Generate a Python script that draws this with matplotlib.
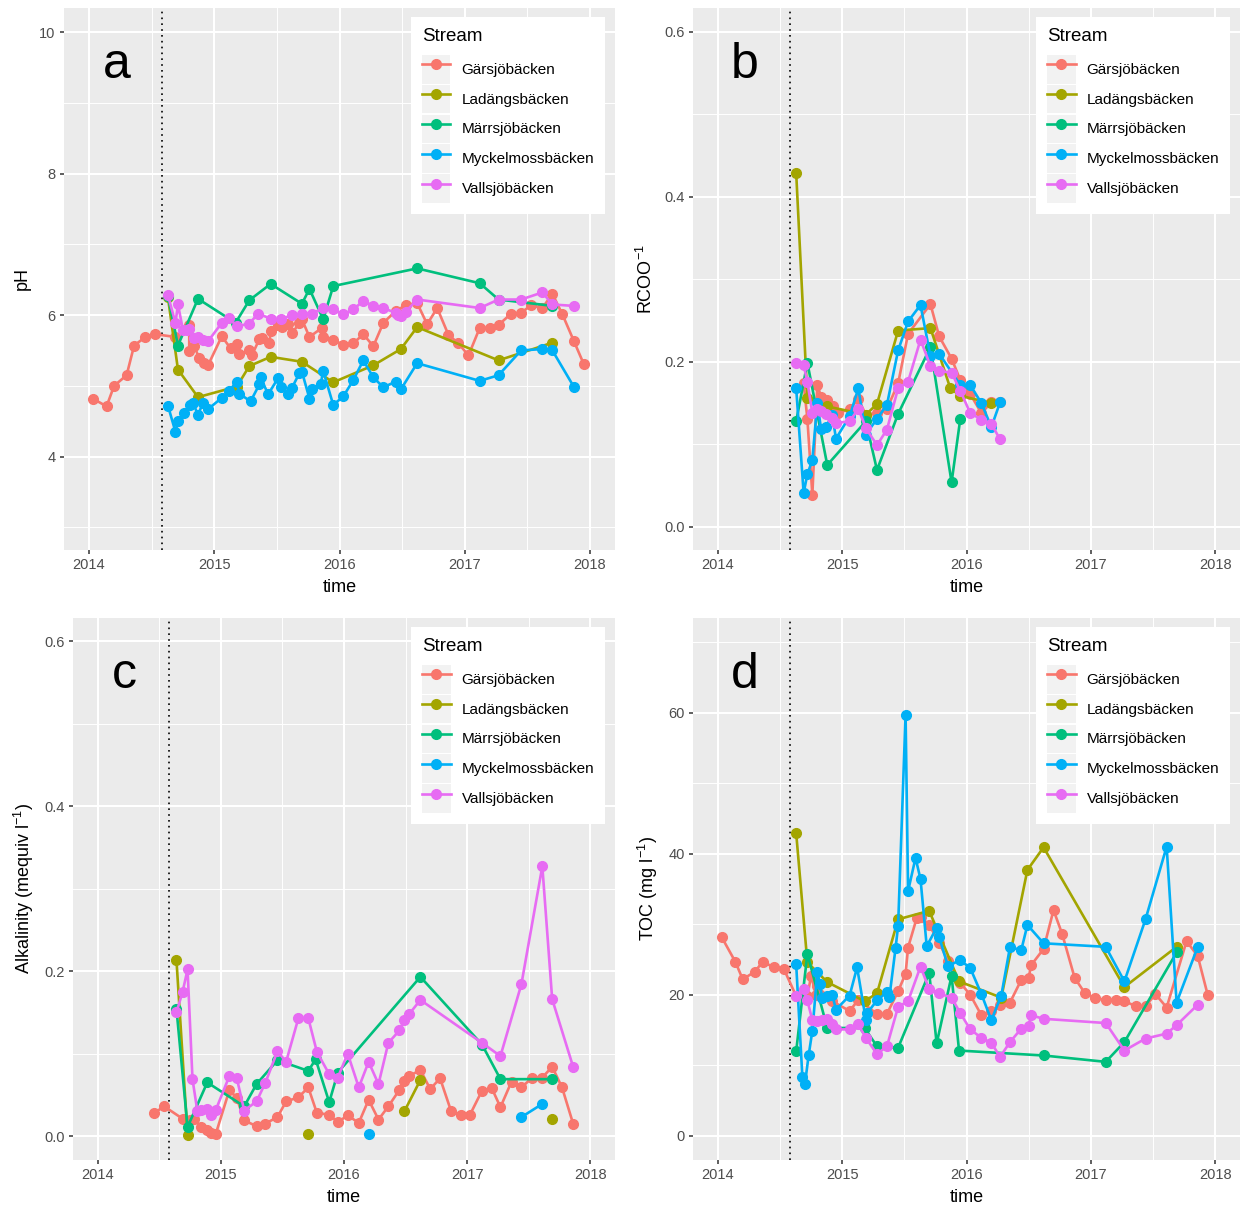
import numpy as np
import matplotlib
matplotlib.use("Agg")
import matplotlib.pyplot as plt
from matplotlib.patches import Patch
from matplotlib.lines import Line2D
from matplotlib.legend_handler import HandlerTuple
from matplotlib.ticker import MultipleLocator

plt.rcParams["font.family"] = ["Liberation Sans", "DejaVu Sans"]
plt.rcParams["mathtext.default"] = "regular"

nan = np.nan

# ======================================================================================== #
# Dados (tempo em anos decimais).
# ======================================================================================== #
STREAMS = ["Gärsjöbäcken", "Ladängsbäcken", "Märrsjöbäcken", "Myckelmossbäcken", "Vallsjöbäcken"]
CORES = ["#F8766D", "#A3A500", "#00BF7D", "#00B0F6", "#E76BF3"]
ANOS = [2014, 2015, 2016, 2017, 2018]
INICIO_TRATAMENTO = 2014.58

# ---- pH ----
ph_gars_t = [2014.03, 2014.14, 2014.20, 2014.30, 2014.36, 2014.45, 2014.53, 2014.69, 2014.80, 2014.80,
             2014.84, 2014.88, 2014.92, 2014.95, 2015.06, 2015.13, 2015.18, 2015.20, 2015.28, 2015.30,
             2015.36, 2015.38, 2015.44, 2015.45, 2015.51, 2015.54, 2015.59, 2015.62, 2015.68, 2015.70,
             2015.76, 2015.86, 2015.87, 2015.95, 2016.03, 2016.11, 2016.19, 2016.27, 2016.35, 2016.45,
             2016.53, 2016.62, 2016.70, 2016.78, 2016.87, 2016.95, 2017.03, 2017.12, 2017.20, 2017.27,
             2017.37, 2017.45, 2017.53, 2017.62, 2017.70, 2017.78, 2017.87, 2017.95]
ph_gars = [4.82, 4.71, 5.00, 5.15, 5.57, 5.69, 5.73, 5.69, 5.86, 5.49,
           5.56, 5.39, 5.32, 5.29, 5.70, 5.53, 5.59, 5.45, 5.50, 5.43,
           5.66, 5.67, 5.61, 5.77, 5.86, 5.83, 5.87, 5.74, 5.89, 5.94,
           5.69, 5.82, 5.69, 5.65, 5.58, 5.60, 5.73, 5.56, 5.89, 6.06,
           6.14, 6.17, 5.87, 6.10, 5.72, 5.60, 5.43, 5.82, 5.82, 5.86,
           6.02, 6.03, 6.14, 6.10, 6.30, 6.01, 5.64, 5.31]
ph_lad_t = [2014.63, 2014.71, 2014.87, 2015.18, 2015.28, 2015.45, 2015.70, 2015.95, 2016.27, 2016.49,
            2016.62, 2017.27, 2017.70]
ph_lad = [6.25, 5.23, 4.84, 4.99, 5.28, 5.41, 5.34, 5.05, 5.29, 5.52, 5.83, 5.36, 5.61]
ph_marr_t = [2014.63, 2014.71, 2014.87, 2015.17, 2015.28, 2015.45, 2015.70, 2015.76, 2015.87, 2015.95,
             2016.62, 2017.12, 2017.27, 2017.70]
ph_marr = [6.27, 5.57, 6.23, 5.89, 6.21, 6.44, 6.16, 6.37, 5.94, 6.41, 6.66, 6.45, 6.22, 6.13]
ph_myck_t = [2014.63, 2014.69, 2014.71, 2014.76, 2014.81, 2014.83, 2014.87, 2014.91, 2014.95,
             2015.06, 2015.12, 2015.18, 2015.20, 2015.29, 2015.36, 2015.37, 2015.43, 2015.51, 2015.53,
             2015.59, 2015.62, 2015.68, 2015.70, 2015.76, 2015.78, 2015.85, 2015.87, 2015.95,
             2016.03, 2016.11, 2016.19, 2016.27, 2016.35, 2016.45, 2016.49, 2016.62,
             2017.12, 2017.27, 2017.45, 2017.62, 2017.70, 2017.87]
ph_myck = [4.72, 4.35, 4.50, 4.61, 4.73, 4.76, 4.59, 4.76, 4.67,
           4.83, 4.93, 5.06, 4.89, 4.78, 5.02, 5.12, 4.88, 5.11, 4.98,
           4.88, 4.97, 5.18, 5.20, 4.82, 4.95, 5.03, 5.21, 4.73,
           4.85, 5.08, 5.36, 5.12, 4.98, 5.06, 4.95, 5.32,
           5.07, 5.15, 5.50, 5.52, 5.50, 4.99]
ph_vall_t = [2014.63, 2014.69, 2014.71, 2014.75, 2014.78, 2014.80, 2014.84, 2014.87, 2014.91, 2014.95,
             2015.06, 2015.12, 2015.18, 2015.28, 2015.35, 2015.45, 2015.53, 2015.62, 2015.70, 2015.78,
             2015.87, 2015.95, 2016.03, 2016.11, 2016.19, 2016.27, 2016.35, 2016.45, 2016.47, 2016.49,
             2016.53, 2016.62, 2017.12, 2017.27, 2017.45, 2017.62, 2017.70, 2017.87]
ph_vall = [6.28, 5.89, 6.15, 5.79, 5.79, 5.81, 5.68, 5.69, 5.65, 5.63,
           5.89, 5.96, 5.84, 5.88, 6.02, 5.95, 5.94, 6.00, 6.02, 6.02,
           6.10, 6.08, 6.01, 6.08, 6.20, 6.13, 6.10, 6.03, 6.00, 5.99,
           6.05, 6.22, 6.10, 6.22, 6.22, 6.32, 6.15, 6.13]

# ---- RCOO- ----
rc_gars_t = [2014.69, 2014.72, 2014.76, 2014.80, 2014.83, 2014.88, 2014.93, 2014.97, 2015.06, 2015.13,
             2015.19, 2015.28, 2015.36, 2015.45, 2015.53, 2015.71, 2015.78, 2015.88, 2015.95, 2016.03,
             2016.12, 2016.20, 2016.27]
rc_gars = [0.174, 0.131, 0.039, 0.172, 0.158, 0.154, 0.147, 0.138, 0.143, 0.155,
           0.136, 0.138, 0.143, 0.174, 0.234, 0.270, 0.231, 0.204, 0.178, 0.161,
           0.138, 0.151, 0.151]
rc_lad_t = [2014.63, 2014.72, 2014.88, 2015.19, 2015.28, 2015.45, 2015.71, 2015.87, 2015.95, 2016.20]
rc_lad = [0.429, 0.156, 0.146, 0.136, 0.149, 0.238, 0.241, 0.168, 0.159, 0.150]
rc_marr_t = [2014.63, 2014.72, 2014.88, 2015.19, 2015.28, 2015.45, 2015.71, 2015.88, 2015.95]
rc_marr = [0.128, 0.199, 0.075, 0.128, 0.069, 0.137, 0.218, 0.054, 0.131]
rc_myck_t = [2014.63, 2014.69, 2014.72, 2014.76, 2014.80, 2014.83, 2014.87, 2014.92, 2014.95,
             2015.06, 2015.13, 2015.19, 2015.28, 2015.36, 2015.45, 2015.53, 2015.63, 2015.71, 2015.78,
             2015.95, 2016.03, 2016.12, 2016.20, 2016.27]
rc_myck = [0.168, 0.041, 0.064, 0.081, 0.150, 0.119, 0.121, 0.136, 0.107,
           0.134, 0.168, 0.112, 0.131, 0.148, 0.214, 0.249, 0.269, 0.207, 0.210,
           0.172, 0.172, 0.150, 0.121, 0.151]
rc_vall_t = [2014.63, 2014.69, 2014.72, 2014.76, 2014.80, 2014.83, 2014.87, 2014.92, 2014.95,
             2015.06, 2015.13, 2015.19, 2015.28, 2015.36, 2015.45, 2015.53, 2015.63, 2015.71, 2015.78,
             2015.88, 2015.95, 2016.03, 2016.12, 2016.20, 2016.27]
rc_vall = [0.199, 0.196, 0.176, 0.138, 0.143, 0.140, 0.137, 0.132, 0.126,
           0.128, 0.143, 0.120, 0.099, 0.118, 0.168, 0.176, 0.227, 0.195, 0.189,
           0.187, 0.165, 0.138, 0.130, 0.125, 0.106]

# ---- Alcalinidade ----
alk_gars_t = [2014.46, 2014.54, 2014.69, 2014.75, 2014.78, 2014.84, 2014.89, 2014.92, 2014.96,
              2015.07, 2015.13, 2015.19, 2015.29, 2015.36, 2015.46, 2015.53, 2015.63, 2015.71, 2015.78,
              2015.88, 2015.95, 2016.03, 2016.12, 2016.20, 2016.28, 2016.36, 2016.45, 2016.49, 2016.53,
              2016.62, 2016.70, 2016.78, 2016.87, 2016.95, 2017.02, 2017.12, 2017.20, 2017.27, 2017.36,
              2017.44, 2017.53, 2017.61, 2017.69, 2017.77, 2017.86]
alk_gars = [0.028, 0.036, 0.021, 0.020, 0.021, 0.011, 0.007, 0.004, 0.003,
            0.056, 0.046, 0.019, 0.012, 0.015, 0.023, 0.042, 0.047, 0.059, 0.028,
            0.026, 0.017, 0.025, 0.016, 0.044, 0.020, 0.036, 0.056, 0.067, 0.073,
            0.080, 0.057, 0.070, 0.030, 0.025, 0.025, 0.055, 0.058, 0.035, 0.066,
            0.059, 0.071, 0.071, 0.084, 0.059, 0.015]
alk_lad_t = [2014.64, 2014.73, 2015.20, 2015.71, 2016.00, 2016.49, 2016.62, 2017.00, 2017.69]
alk_lad = [0.213, 0.001, nan, 0.002, nan, 0.030, 0.068, nan, 0.021]
alk_marr_t = [2014.64, 2014.73, 2014.89, 2015.19, 2015.29, 2015.46, 2015.71, 2015.77, 2015.88, 2015.95,
              2016.62, 2017.12, 2017.27, 2017.69]
alk_marr = [0.154, 0.011, 0.065, 0.036, 0.063, 0.092, 0.079, 0.093, 0.041, 0.077,
            0.193, 0.111, 0.069, 0.069]
alk_myck_t = [2016.20, 2016.80, 2017.44, 2017.61]
alk_myck = [0.003, nan, 0.023, 0.039]
alk_vall_t = [2014.64, 2014.69, 2014.73, 2014.77, 2014.81, 2014.84, 2014.89, 2014.92, 2014.96,
              2015.07, 2015.13, 2015.19, 2015.29, 2015.36, 2015.46, 2015.53, 2015.63, 2015.71, 2015.78,
              2015.88, 2015.95, 2016.03, 2016.12, 2016.20, 2016.28, 2016.36, 2016.45, 2016.49, 2016.53,
              2016.62, 2017.12, 2017.27, 2017.44, 2017.61, 2017.69, 2017.86]
alk_vall = [0.150, 0.175, 0.202, 0.069, 0.030, 0.032, 0.033, 0.026, 0.032,
            0.073, 0.070, 0.031, 0.042, 0.064, 0.103, 0.090, 0.143, 0.143, 0.102,
            0.075, 0.071, 0.100, 0.059, 0.090, 0.063, 0.113, 0.128, 0.141, 0.148,
            0.165, 0.113, 0.097, 0.184, 0.327, 0.166, 0.084]

# ---- TOC ----
toc_gars_t = [2014.03, 2014.14, 2014.20, 2014.30, 2014.36, 2014.45, 2014.53, 2014.63, 2014.72, 2014.75,
              2014.79, 2014.80, 2014.92, 2015.06, 2015.13, 2015.28, 2015.36, 2015.45, 2015.51, 2015.53,
              2015.60, 2015.63, 2015.70, 2015.78, 2015.85, 2015.95, 2016.03, 2016.12, 2016.20, 2016.27,
              2016.35, 2016.44, 2016.50, 2016.52, 2016.62, 2016.70, 2016.77, 2016.87, 2016.95, 2017.03,
              2017.12, 2017.20, 2017.27, 2017.36, 2017.44, 2017.52, 2017.61, 2017.77, 2017.86, 2017.94]
toc_gars = [28.2, 24.7, 22.2, 23.3, 24.7, 23.9, 23.7, 19.8, 19.8, 22.7,
            20.0, 21.2, 19.1, 17.7, 19.3, 17.3, 17.3, 20.5, 23.0, 26.7,
            30.9, 31.0, 29.9, 27.4, 24.8, 21.7, 20.0, 17.1, 17.7, 18.6,
            18.9, 22.1, 22.4, 24.2, 26.5, 32.0, 28.6, 22.4, 20.3, 19.5,
            19.3, 19.3, 19.1, 18.4, 18.4, 20.1, 18.2, 27.6, 25.5, 20.0]
toc_lad_t = [2014.63, 2014.72, 2014.88, 2015.18, 2015.28, 2015.45, 2015.70, 2015.94, 2016.28, 2016.49,
             2016.62, 2017.27, 2017.69]
toc_lad = [42.9, 24.6, 21.8, 19.1, 20.2, 30.7, 31.9, 21.9, 19.6, 37.7, 40.9, 21.1, 26.8]
toc_marr_t = [2014.63, 2014.72, 2014.88, 2015.18, 2015.28, 2015.45, 2015.70, 2015.76, 2015.88, 2015.94,
              2016.62, 2017.12, 2017.27, 2017.69]
toc_marr = [12.0, 25.8, 15.3, 15.3, 12.7, 12.5, 23.1, 13.1, 22.7, 12.1, 11.4, 10.5, 13.3, 26.0]
toc_myck_t = [2014.63, 2014.68, 2014.70, 2014.73, 2014.76, 2014.80, 2014.82, 2014.84, 2014.88, 2014.92,
              2014.95, 2015.06, 2015.12, 2015.19, 2015.20, 2015.28, 2015.36, 2015.38, 2015.43, 2015.45,
              2015.51, 2015.53, 2015.59, 2015.63, 2015.68, 2015.76, 2015.78, 2015.85, 2015.95, 2016.03,
              2016.12, 2016.20, 2016.28, 2016.35, 2016.44, 2016.49, 2016.62, 2017.12, 2017.27, 2017.44,
              2017.61, 2017.69, 2017.86]
toc_myck = [24.3, 8.3, 7.3, 11.4, 14.9, 23.2, 21.6, 19.5, 19.8, 20.0,
            17.9, 19.9, 23.9, 16.5, 17.4, 19.2, 20.4, 19.7, 26.7, 29.8,
            59.7, 34.7, 39.4, 36.4, 26.9, 29.5, 28.2, 24.1, 24.9, 23.8,
            20.1, 16.4, 19.9, 26.8, 26.3, 29.9, 27.3, 26.8, 21.9, 30.7,
            41.0, 18.9, 26.8]
toc_vall_t = [2014.63, 2014.69, 2014.72, 2014.76, 2014.80, 2014.84, 2014.88, 2014.92, 2014.95,
              2015.06, 2015.13, 2015.19, 2015.28, 2015.36, 2015.45, 2015.53, 2015.63, 2015.70, 2015.78,
              2015.88, 2015.95, 2016.03, 2016.12, 2016.20, 2016.27, 2016.35, 2016.44, 2016.50, 2016.52,
              2016.62, 2017.12, 2017.27, 2017.44, 2017.61, 2017.69, 2017.86]
toc_vall = [19.8, 20.8, 19.2, 16.4, 16.3, 16.4, 16.6, 15.8, 15.1,
            15.1, 15.8, 13.9, 11.6, 12.7, 18.3, 19.1, 24.0, 20.8, 20.2,
            19.6, 17.4, 15.1, 13.9, 13.2, 11.2, 13.3, 15.2, 15.6, 17.1,
            16.6, 16.0, 12.1, 13.8, 14.5, 15.7, 18.6]


# ======================================================================================== #
# Um painel no estilo ggplot.
# ======================================================================================== #
def desenhar_painel(ax, series, ylim, yticks, passo_menor, formato, ylabel, letra):
    ax.set_facecolor("#EBEBEB")
    for spine in ax.spines.values():
        spine.set_visible(False)

    ax.set_xlim(2013.8, 2018.2)
    ax.set_ylim(*ylim)

    ax.set_xticks(ANOS)
    ax.set_xticklabels([str(a) for a in ANOS])
    ax.xaxis.set_minor_locator(MultipleLocator(0.5))
    ax.set_yticks(yticks)
    ax.set_yticklabels([formato.format(v) for v in yticks])
    ax.yaxis.set_minor_locator(MultipleLocator(passo_menor))

    ax.grid(which="major", color="white", linewidth=1.5)
    ax.grid(which="minor", color="white", linewidth=0.7)
    ax.set_axisbelow(True)
    ax.tick_params(which="major", length=3, width=1.1, color="#333333",
                   labelcolor="#4D4D4D", labelsize=10.5, pad=3)
    ax.tick_params(which="minor", length=0)

    ax.axvline(INICIO_TRATAMENTO, color="black", linewidth=1.2, linestyle=(0, (1, 2.5)), zorder=1.5)

    for (t, v), cor in zip(series, CORES):
        ax.plot(t, v, color=cor, linewidth=1.9, marker="o", markersize=7, zorder=2)

    ax.set_xlabel("time", fontsize=13, labelpad=5)
    ax.set_ylabel(ylabel, fontsize=13, labelpad=6)

    ax.text(0.095, 0.895, letra, transform=ax.transAxes, fontsize=36,
            ha="center", va="center", color="black")

    # chaves da legenda: quadrado cinza claro + linha com ponto
    handles = [
        (Patch(facecolor="#F2F2F2", edgecolor="none"),
         Line2D([], [], color=cor, linewidth=1.9, marker="o", markersize=7))
        for cor in CORES
    ]
    leg = ax.legend(handles, STREAMS, title="Stream",
                    handler_map={tuple: HandlerTuple(ndivide=1, pad=0)},
                    loc="upper right", bbox_to_anchor=(0.982, 0.983),
                    frameon=True, fancybox=False, framealpha=1,
                    fontsize=11, title_fontsize=13.5,
                    handlelength=1.85, handleheight=2.5, labelspacing=0.08,
                    borderpad=0.72, handletextpad=0.72, borderaxespad=0,
                    alignment="left")
    # espaço entre o título e as chaves, como no ggplot
    leg._legend_box.sep = 7
    leg.get_frame().set_edgecolor("none")
    leg.get_frame().set_facecolor("white")


fig = plt.figure(figsize=(12.48, 12.09), dpi=100)
W, H = 1248, 1209


def eixo(esq, topo, dir_, base):
    return fig.add_axes([esq / W, 1 - base / H, (dir_ - esq) / W, (base - topo) / H])


ax_a = eixo(64, 8, 615, 550)
ax_b = eixo(693, 8, 1240, 550)
ax_c = eixo(73, 618, 615, 1160)
ax_d = eixo(693, 618, 1240, 1160)

desenhar_painel(ax_a,
                [(ph_gars_t, ph_gars), (ph_lad_t, ph_lad), (ph_marr_t, ph_marr),
                 (ph_myck_t, ph_myck), (ph_vall_t, ph_vall)],
                (2.68, 10.34), [4, 6, 8, 10], 1, "{:d}", "pH", "a")

desenhar_painel(ax_b,
                [(rc_gars_t, rc_gars), (rc_lad_t, rc_lad), (rc_marr_t, rc_marr),
                 (rc_myck_t, rc_myck), (rc_vall_t, rc_vall)],
                (-0.028, 0.629), [0.0, 0.2, 0.4, 0.6], 0.1, "{:.1f}", "RCOO$^{-1}$", "b")

desenhar_painel(ax_c,
                [(alk_gars_t, alk_gars), (alk_lad_t, alk_lad), (alk_marr_t, alk_marr),
                 (alk_myck_t, alk_myck), (alk_vall_t, alk_vall)],
                (-0.029, 0.628), [0.0, 0.2, 0.4, 0.6], 0.1, "{:.1f}",
                "Alkalinity (mequiv l$^{-1}$)", "c")

desenhar_painel(ax_d,
                [(toc_gars_t, toc_gars), (toc_lad_t, toc_lad), (toc_marr_t, toc_marr),
                 (toc_myck_t, toc_myck), (toc_vall_t, toc_vall)],
                (-3.41, 73.4), [0, 20, 40, 60], 10, "{:d}", "TOC (mg l$^{-1}$)", "d")

fig.savefig("out.png", dpi=100)
plt.close(fig)
